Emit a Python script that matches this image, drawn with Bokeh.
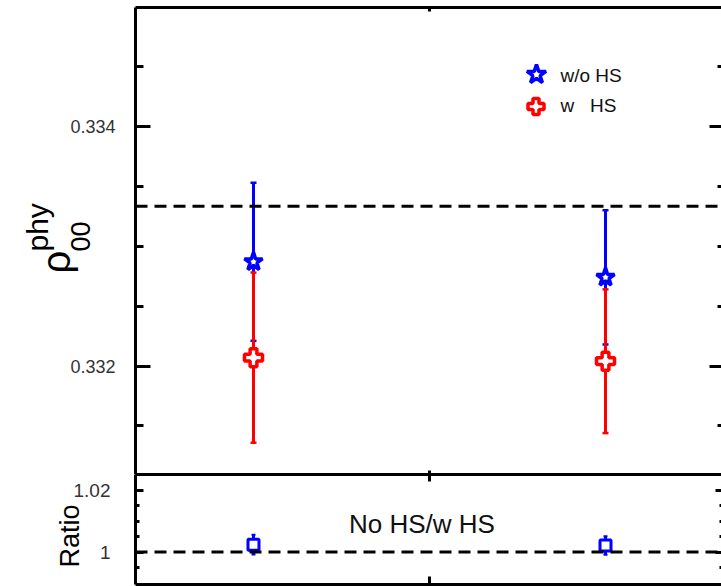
import numpy as np
from bokeh.plotting import figure
from bokeh.models import (Range1d, FixedTicker, LinearAxis, Span, Label, Whisker,
                          ColumnDataSource, TeeHead, CustomLabelingPolicy)
from bokeh.layouts import column, row
from bokeh.embed import file_html
from bokeh.resources import INLINE

# ---------------- data ----------------
bins = [1, 2]
wo_hs_vals = [0.33287, 0.33274]
wo_hs_errs = [0.00066, 0.00056]
w_hs_vals = [0.33207, 0.33204]
w_hs_errs = [0.00071, 0.00060]
ratio_vals = [1.0024, 1.0021]
ratio_errs = [0.0032, 0.0030]
rho_reference = 1.0 / 3.0
ratio_reference = 1.0

top_major = [0.332, 0.334]
top_minor = [0.3315, 0.3325, 0.333, 0.3335, 0.3345]
bot_major = [1.0, 1.02]
bot_minor = [0.995, 1.005, 1.01, 1.015, 1.025]
x_ticks = [1.5]
legend_labels = ["w/o HS", "w\u00a0\u00a0\u00a0HS"]
ratio_text = "No HS/w HS"

# ---------------- layout constants ----------------
FONT = "Liberation Sans"
LEFT_W = 133          # narrow side panel holding labels
MAIN_W = 588          # main figures (2px border + 586px frame)
TOP_H, BOT_H = 474, 112
X0, X1 = 0.6648, 2.3295
YT0, YT1 = 0.331094, 0.334994
YB0, YB1 = 0.98952, 1.02508
FX0, FW = 135, 586
FT_TOP, FT_H = 7, 467
FB_TOP, FB_H = 474, 110


def xd(px):
    return X0 + (px - FX0) / FW * (X1 - X0)


def yt(py):
    return YT1 - (py - FT_TOP) / FT_H * (YT1 - YT0)


def yb(py):
    return YB1 - (py - FB_TOP) / FB_H * (YB1 - YB0)


HIDE = CustomLabelingPolicy(code="""
for (const i of Array.from(indices)) { indices.unset(i) }
return indices
""")


def make_axis(ticks, minor, tick_in, minor_in, line=True):
    ax = LinearAxis(ticker=FixedTicker(ticks=ticks, minor_ticks=minor))
    ax.major_tick_in = tick_in
    ax.major_tick_out = 0
    ax.minor_tick_in = minor_in
    ax.minor_tick_out = 0
    ax.major_tick_line_width = 3
    ax.minor_tick_line_width = 3
    if line:
        ax.axis_line_width = 3
        ax.axis_line_color = "black"
    else:
        ax.axis_line_color = None
    ax.major_label_text_font_size = "0px"
    ax.major_label_standoff = 0
    ax.major_label_policy = HIDE
    return ax


def bare_fig(w, h, xr, yr, top, bottom, left=0):
    f = figure(width=w, height=h, output_backend="svg", toolbar_location=None,
               x_range=xr, y_range=yr, x_axis_location=None, y_axis_location=None,
               min_border_left=left, min_border_right=0,
               min_border_top=top, min_border_bottom=bottom)
    f.outline_line_color = None
    f.grid.grid_line_color = None
    return f


# ---------------- top panel ----------------
p1 = bare_fig(MAIN_W, TOP_H, Range1d(X0, X1), Range1d(YT0, YT1), FT_TOP, 0, left=2)
p1.add_layout(make_axis(top_major, top_minor, 15, 8), "left")
p1.add_layout(make_axis(top_major, top_minor, 12, 4, line=False), "right")
p1.add_layout(make_axis(x_ticks, [], 4, 0), "above")
p1.add_layout(make_axis(x_ticks, [], 4, 0), "below")

p1.add_layout(Span(location=rho_reference, dimension="width", line_color="black",
                   line_width=3, line_dash="12 7"))

src_wo = ColumnDataSource(dict(x=bins, y=wo_hs_vals,
                               lo=[v - e for v, e in zip(wo_hs_vals, wo_hs_errs)],
                               hi=[v + e for v, e in zip(wo_hs_vals, wo_hs_errs)]))
src_w = ColumnDataSource(dict(x=bins, y=w_hs_vals,
                              lo=[v - e for v, e in zip(w_hs_vals, w_hs_errs)],
                              hi=[v + e for v, e in zip(w_hs_vals, w_hs_errs)]))

for src, col in ((src_wo, "blue"), (src_w, "red")):
    p1.add_layout(Whisker(source=src, base="x", lower="lo", upper="hi",
                          line_color=col, line_width=3,
                          upper_head=TeeHead(size=6, line_color=col, line_width=2.5),
                          lower_head=TeeHead(size=6, line_color=col, line_width=2.5)))

p1.scatter("x", "y", source=src_wo, marker="star", size=19,
           fill_color="white", line_color="blue", line_width=3.5)
p1.scatter("x", "y", source=src_w, marker="plus", size=18,
           fill_color="white", line_color="red", line_width=3.5)

# legend (manual, mirroring the original)
p1.scatter([xd(536)], [yt(74)], marker="star", size=20, fill_color="white",
           line_color="blue", line_width=3.5)
p1.scatter([xd(535.5)], [yt(106)], marker="plus", size=16, fill_color="white",
           line_color="red", line_width=3.5)
for lab, py in zip(legend_labels, (75, 105)):
    p1.add_layout(Label(x=xd(560), y=yt(py), text=lab, text_font=FONT,
                        text_font_size="19px", text_color="#111111",
                        text_align="left", text_baseline="middle"))

# narrow panel with tick labels and y title
n1 = bare_fig(LEFT_W, TOP_H, Range1d(0, LEFT_W), p1.y_range, FT_TOP, 0)
for v in top_major:
    n1.add_layout(Label(x=115, y=v, text=f"{v:g}", text_font=FONT,
                        text_font_size="18px", text_color="#333333",
                        text_align="right", text_baseline="middle"))
n1.add_layout(Label(x=55, y=yt(273), text="ρ", angle=np.pi / 2, text_font=FONT,
                    text_font_size="40px", text_color="black",
                    text_align="left", text_baseline="alphabetic"))
n1.add_layout(Label(x=37, y=yt(251), text="phy", angle=np.pi / 2, text_font=FONT,
                    text_font_size="30px", text_color="black",
                    text_align="left", text_baseline="alphabetic"))
n1.add_layout(Label(x=80, y=yt(251), text="00", angle=np.pi / 2, text_font=FONT,
                    text_font_size="27px", text_color="black",
                    text_align="left", text_baseline="alphabetic"))

# ---------------- ratio panel ----------------
p2 = bare_fig(MAIN_W, BOT_H, p1.x_range, Range1d(YB0, YB1), 0, 2, left=2)
p2.add_layout(make_axis(bot_major, bot_minor, 8, 4), "left")
p2.add_layout(make_axis(bot_major, bot_minor, 6, 2, line=False), "right")
p2.add_layout(make_axis(x_ticks, [], 7, 0), "above")
p2.add_layout(make_axis(x_ticks, [], 8, 0), "below")

p2.add_layout(Span(location=ratio_reference, dimension="width", line_color="black",
                   line_width=3, line_dash="12 7"))

src_r = ColumnDataSource(dict(x=bins, y=ratio_vals,
                              lo=[v - e for v, e in zip(ratio_vals, ratio_errs)],
                              hi=[v + e for v, e in zip(ratio_vals, ratio_errs)]))
p2.add_layout(Whisker(source=src_r, base="x", lower="lo", upper="hi",
                      line_color="blue", line_width=3,
                      upper_head=TeeHead(size=4, line_color="blue", line_width=2),
                      lower_head=TeeHead(size=4, line_color="blue", line_width=2)))
p2.scatter("x", "y", source=src_r, marker="square", size=11,
           fill_color="white", line_color="blue", line_width=3)

p2.add_layout(Label(x=xd(421.5), y=yb(523), text=ratio_text, text_font=FONT,
                    text_font_size="26px", text_color="#111111",
                    text_align="center", text_baseline="middle"))

n2 = bare_fig(LEFT_W, BOT_H, Range1d(0, LEFT_W), p2.y_range, 0, 2)
for v in bot_major:
    n2.add_layout(Label(x=110, y=v, text=f"{v:g}", text_font=FONT,
                        text_font_size="19px", text_color="#333333",
                        text_align="right", text_baseline="middle"))
n2.add_layout(Label(x=69, y=yb(567), text="Ratio", angle=np.pi / 2, text_font=FONT,
                    text_font_size="27px", text_color="black",
                    text_align="left", text_baseline="alphabetic"))

layout = column(row(n1, p1, spacing=0), row(n2, p2, spacing=0), spacing=0)
open("out.html", "w").write(file_html(layout, INLINE))
